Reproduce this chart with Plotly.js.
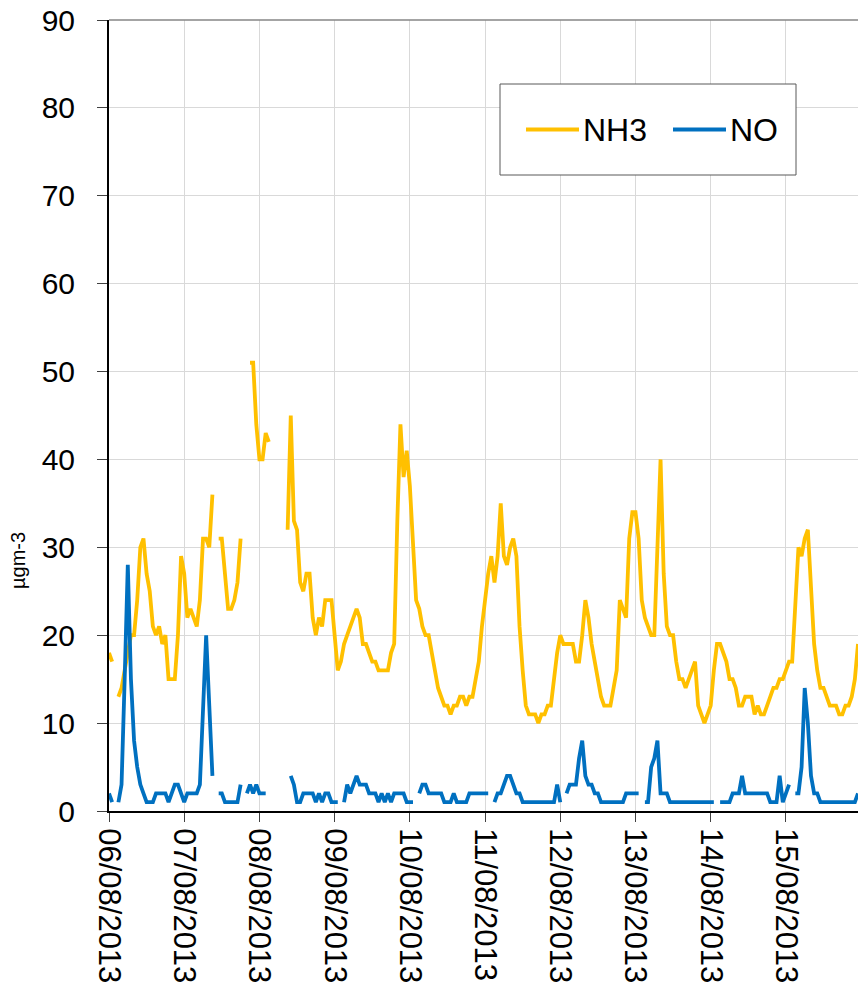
<!DOCTYPE html>
<html>
<head>
<meta charset="utf-8">
<script src="https://cdn.plot.ly/plotly-3.0.1.min.js"></script>
<style>html,body{margin:0;padding:0;background:#fff;}#chart{width:858px;height:993px;}</style>
</head>
<body>
<div id="chart"></div>
<script>
// Hourly values, 06/08/2013 00:00 to 15/08/2013 23:00 (24 per row = one day)
const nh3 = [
  18,17,null,13,14,16,18,20,20,24,30,31,27,25,21,20,21,19,20,15,15,15,20,29,
  27,22,23,22,21,24,31,31,30,36,null,31,31,27,23,23,24,26,31,null,null,51,51,44,
  40,40,43,42,null,null,null,null,null,32,45,33,32,26,25,27,27,22,20,22,21,24,24,24,
  20,16,17,19,20,21,22,23,22,19,19,18,17,17,16,16,16,16,18,19,33,44,38,41,
  37,30,24,23,21,20,20,18,16,14,13,12,12,11,12,12,13,13,12,13,13,15,17,21,
  24,27,29,26,29,35,29,28,30,31,29,21,16,12,11,11,11,10,11,11,12,12,15,18,
  20,19,19,19,19,17,17,20,24,22,19,17,15,13,12,12,12,14,16,24,23,22,31,34,
  34,31,24,22,21,20,20,30,40,27,21,20,20,17,15,15,14,15,16,17,12,11,10,11,
  12,16,19,19,18,17,15,15,14,12,12,13,13,13,11,12,11,11,12,13,14,14,15,15,
  16,17,17,24,30,29,31,32,25,19,16,14,14,13,12,12,12,11,11,12,12,13,15,19
];
const no = [
  2,1,null,1,3,15,28,15,8,5,3,2,1,1,1,2,2,2,2,1,2,3,3,2,
  1,2,2,2,2,3,11,20,12,4,null,2,2,1,1,1,1,1,3,null,2,3,2,3,
  2,2,2,null,null,null,null,null,null,null,4,3,1,1,2,2,2,2,1,2,1,2,2,1,
  1,1,null,1,3,2,3,4,3,3,3,2,2,2,1,2,1,2,1,2,2,2,2,1,
  1,1,null,2,3,3,2,2,2,2,2,1,1,1,2,1,1,1,1,2,2,2,2,2,
  2,2,null,1,2,2,3,4,4,3,2,2,1,1,1,1,1,1,1,1,1,1,1,3,
  1,null,2,3,3,3,6,8,4,3,3,2,2,1,1,1,1,1,1,1,1,2,2,2,
  2,2,null,1,1,5,6,8,2,2,2,1,1,1,1,1,1,1,1,1,1,1,1,1,
  1,1,null,1,1,1,1,2,2,2,4,2,2,2,2,2,2,2,2,1,1,1,4,1,
  2,3,null,2,2,5,14,10,4,2,2,1,1,1,1,1,1,1,1,1,1,1,1,2
];
const seriesNames = ['NH3', 'NO'];
const dayTicks = ['2013-08-06','2013-08-07','2013-08-08','2013-08-09','2013-08-10',
                  '2013-08-11','2013-08-12','2013-08-13','2013-08-14','2013-08-15'];
const dayLabels = ['06/08/2013','07/08/2013','08/08/2013','09/08/2013','10/08/2013',
                   '11/08/2013','12/08/2013','13/08/2013','14/08/2013','15/08/2013'];
const yTitle = 'µgm-3';

// hourly timestamps for the x axis
const pad = n => (n < 10 ? '0' : '') + n;
const times = nh3.map((_, i) => '2013-08-' + pad(6 + Math.floor(i / 24)) + ' ' + pad(i % 24) + ':00');

const colNH3 = '#FFC000', colNO = '#0070C0';
const FONT = 'Liberation Sans, Arial, Helvetica, sans-serif';

const traces = [
  {x: times, y: nh3, name: seriesNames[0], type: 'scatter', mode: 'lines',
   line: {color: colNH3, width: 3.8}, connectgaps: false, hoverinfo: 'x+y'},
  {x: times, y: no, name: seriesNames[1], type: 'scatter', mode: 'lines',
   line: {color: colNO, width: 3.8}, connectgaps: false, hoverinfo: 'x+y'}
];

const W = 858, H = 993, L = 109, R = 0, T = 20, B = 182;
const pw = W - L - R, ph = H - T - B;
const px = X => (X - L) / pw;
const py = Y => (H - B - Y) / ph;

const layout = {
  width: W, height: H,
  margin: {l: L, r: R, t: T, b: B, pad: 0},
  paper_bgcolor: '#ffffff', plot_bgcolor: '#ffffff',
  showlegend: false,
  font: {family: FONT, color: '#000'},
  xaxis: {
    type: 'date',
    range: [times[0], times[times.length - 1]],
    tickmode: 'array', tickvals: dayTicks, ticktext: dayLabels,
    tickangle: 90, ticks: 'outside', ticklen: 9, tickwidth: 1, tickcolor: '#404040',
    tickfont: {family: FONT, size: 31, color: '#000'},
    showgrid: true, gridcolor: '#d9d9d9', gridwidth: 1,
    showline: true, linecolor: '#000', linewidth: 2,
    zeroline: false, fixedrange: true
  },
  yaxis: {
    range: [0, 90], dtick: 10, tick0: 0,
    ticks: 'outside', ticklen: 10, tickwidth: 1, tickcolor: '#404040',
    tickfont: {family: FONT, size: 30, color: '#000'},
    ticklabelstandoff: 16,
    showgrid: true, gridcolor: '#d9d9d9', gridwidth: 1,
    showline: true, linecolor: '#000', linewidth: 2,
    zeroline: false, fixedrange: true
  },
  shapes: [
    {type: 'line', xref: 'paper', yref: 'paper', x0: 0, x1: 1, y0: 1, y1: 1,
     line: {color: '#868686', width: 1.5}},
    {type: 'rect', xref: 'paper', yref: 'paper', x0: px(500), x1: px(796), y0: py(175), y1: py(84),
     fillcolor: '#ffffff', line: {color: '#595959', width: 1}},
    {type: 'line', xref: 'paper', yref: 'paper', x0: px(526), x1: px(579), y0: py(129.5), y1: py(129.5),
     line: {color: colNH3, width: 4}},
    {type: 'line', xref: 'paper', yref: 'paper', x0: px(673), x1: px(726), y0: py(129.5), y1: py(129.5),
     line: {color: colNO, width: 4}}
  ],
  annotations: [
    {xref: 'paper', yref: 'paper', x: px(581), y: py(129.5), xanchor: 'left', yanchor: 'middle',
     text: seriesNames[0], showarrow: false, font: {family: FONT, size: 32, color: '#000'}},
    {xref: 'paper', yref: 'paper', x: px(728), y: py(129.5), xanchor: 'left', yanchor: 'middle',
     text: seriesNames[1], showarrow: false, font: {family: FONT, size: 32, color: '#000'}},
    {xref: 'paper', yref: 'paper', x: px(18), y: py(561), xanchor: 'center', yanchor: 'middle',
     text: yTitle, textangle: -90, showarrow: false, font: {family: FONT, size: 20, color: '#000'}}
  ]
};

Plotly.newPlot('chart', traces, layout, {displayModeBar: false, staticPlot: true});
</script>
</body>
</html>
